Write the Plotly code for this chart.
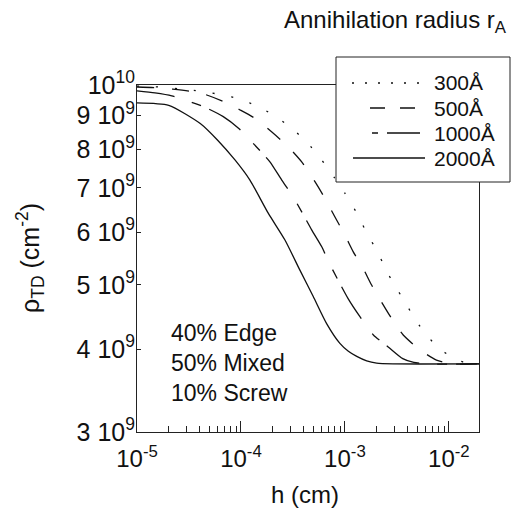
import math
import plotly.graph_objects as go

# ---- data (h in cm, rho in units of 1e9 cm^-2) ----
labels = ["300Å", "500Å", "1000Å", "2000Å"]

h_300 = [1e-5, 1.49e-5, 3.24e-5, 4.68e-5, 6.76e-5, 9.77e-5, 1.42e-4, 2.05e-4, 2.96e-4,
         4.28e-4, 5.97e-4, 7.89e-4, 1.0e-3, 1.28e-3, 1.56e-3, 1.90e-3, 2.34e-3, 2.81e-3,
         3.51e-3, 4.38e-3, 5.66e-3, 7.79e-3, 1.12e-2, 1.5e-2, 1.95e-2]
rho_300 = [9.96, 9.94, 9.83, 9.75, 9.66, 9.52, 9.30, 9.01, 8.65,
           8.21, 7.71, 7.26, 6.87, 6.44, 6.06, 5.73, 5.38, 5.08,
           4.80, 4.53, 4.26, 4.03, 3.87, 3.81, 3.80]

h_500 = [1e-5, 1.5e-5, 2.2e-5, 3.2e-5, 4.5e-5, 6.8e-5, 9.8e-5, 1.36e-4, 1.97e-4, 2.85e-4,
         3.84e-4, 5.15e-4, 6.42e-4, 8.0e-4, 1.0e-3, 1.2e-3, 1.5e-3, 1.8e-3, 2.25e-3,
         2.81e-3, 3.64e-3, 5.26e-3, 7.6e-3, 1.05e-2, 1.95e-2]
rho_500 = [9.93, 9.91, 9.86, 9.79, 9.68, 9.44, 9.17, 8.91, 8.50, 8.07,
           7.66, 7.15, 6.75, 6.33, 5.94, 5.61, 5.29, 5.00, 4.71,
           4.45, 4.20, 3.99, 3.85, 3.80, 3.80]

h_1000 = [1e-5, 1.49e-5, 2.16e-5, 4.4e-5, 6.76e-5, 9.6e-5, 1.45e-4, 1.9e-4, 2.47e-4, 3.17e-4,
          4.79e-4, 5.97e-4, 7.2e-4, 1.07e-3, 1.39e-3, 1.88e-3, 2.61e-3, 3.6e-3, 4.6e-3,
          6.2e-3, 1.95e-2]
rho_1000 = [9.80, 9.73, 9.63, 9.27, 8.96, 8.59, 8.03, 7.66, 7.19, 6.79,
            6.05, 5.71, 5.36, 4.77, 4.48, 4.20, 4.03, 3.87, 3.82,
            3.80, 3.80]

h_2000 = [1e-5, 2.02e-5, 4.06e-5, 6e-5, 8.76e-5, 1.22e-4, 1.83e-4, 2.65e-4, 3.69e-4, 4.96e-4,
          6.67e-4, 8.95e-4, 1.08e-3, 1.3e-3, 1.62e-3, 2.02e-3, 2.9e-3, 1.95e-2]
rho_2000 = [9.40, 9.32, 8.75, 8.25, 7.71, 7.19, 6.41, 5.84, 5.26, 4.80,
            4.37, 4.08, 3.97, 3.90, 3.84, 3.81, 3.80, 3.80]

x_tick_vals = [1e-5, 1e-4, 1e-3, 1e-2]
x_tick_exp = ["-5", "-4", "-3", "-2"]
y_tick_vals = [3e9, 4e9, 5e9, 6e9, 7e9, 8e9, 9e9, 1e10]
y_tick_mant = ["3 ", "4 ", "5 ", "6 ", "7 ", "8 ", "9 ", ""]
y_tick_exp = ["9", "9", "9", "9", "9", "9", "9", "10"]
composition = ["40% Edge", "50% Mixed", "10% Screw"]

# ---- styles ----
FONT = "Liberation Sans, Arial, Helvetica, sans-serif"
INK = "#111111"
SUP = '<sup style="font-size:18px">{}</sup>'
curve_dash = ["2px,17px", "17px,18px", "38px,18px,10px,9px", "solid"]
legend_dash = ["2px,11px", "15px,15px", "6px,9px,33px,9px", "solid"]

x_tick_text = ["10" + SUP.format(e) for e in x_tick_exp]
y_tick_text = [m + "10" + SUP.format(e) for m, e in zip(y_tick_mant, y_tick_exp)]

fig = go.Figure()
series = [(h_300, rho_300), (h_500, rho_500), (h_1000, rho_1000), (h_2000, rho_2000)]
for (hx, ry), dash, name in zip(series, curve_dash, labels):
    fig.add_trace(go.Scatter(x=hx, y=[v * 1e9 for v in ry], mode="lines", name=name,
                             line=dict(color=INK, width=1.3, dash=dash, shape="spline", smoothing=0.6),
                             showlegend=False))

minor_x = [m * 10 ** e for e in (-5, -4, -3, -2) for m in range(2, 10) if m * 10 ** e < 0.0195]

fig.update_layout(
    width=513, height=508,
    margin=dict(l=137, r=34, t=85, b=76),
    paper_bgcolor="white", plot_bgcolor="white",
    font=dict(family=FONT, color=INK, size=22),
    xaxis=dict(type="log", range=[-5, math.log10(0.0195)],
               showline=True, linecolor="#222", linewidth=1, mirror=True,
               ticks="inside", ticklen=11, tickwidth=1, tickcolor="#222",
               tickvals=x_tick_vals, ticktext=x_tick_text, ticklabelstandoff=5,
               tickfont=dict(size=24, family=FONT, color=INK),
               showgrid=False, zeroline=False,
               minor=dict(ticks="inside", ticklen=6, tickwidth=1, tickcolor="#222",
                          tickvals=minor_x, showgrid=False)),
    yaxis=dict(type="log", range=[math.log10(3e9), 10],
               showline=True, linecolor="#222", linewidth=1, mirror=True,
               ticks="inside", ticklen=4, tickwidth=1, tickcolor="#222",
               tickvals=y_tick_vals, ticktext=y_tick_text, ticklabelstandoff=-4,
               tickfont=dict(size=25, family=FONT, color=INK),
               showgrid=False, zeroline=False),
)

def px(xp):
    return (xp - 137) / 342.0

def py(yp):
    return (432 - yp) / 347.0

annotations = [
    dict(text="h (cm)", x=px(305), y=py(494), xref="paper", yref="paper",
         showarrow=False, font=dict(size=24, family=FONT, color=INK), xanchor="center", yanchor="middle"),
    dict(text='ρ<sub style="font-size:15px">TD</sub> (cm<sup style="font-size:17px">-2</sup>)',
         x=px(30), y=py(258), xref="paper", yref="paper",
         showarrow=False, textangle=-90, font=dict(size=25, family=FONT, color=INK),
         xanchor="center", yanchor="middle"),
    dict(text="Annihilation radius r<sub>A</sub>", x=px(282), y=py(22), xref="paper", yref="paper",
         showarrow=False, font=dict(size=24, family=FONT, color=INK), xanchor="left", yanchor="middle"),
    dict(text="<br>".join(composition), x=px(169), y=py(363), xref="paper", yref="paper",
         showarrow=False, align="left", font=dict(size=23, family=FONT, color=INK),
         xanchor="left", yanchor="middle"),
]

shapes = [dict(type="rect", xref="paper", yref="paper", x0=px(336), x1=px(510), y0=py(182), y1=py(57),
               fillcolor="white", line=dict(color="#222", width=1), layer="above")]

leg_y = [83, 108, 133, 158]
leg_x = [(352, 427), (370, 415), (372, 420), (353, 425)]
for name, dash, yy, (xa, xb) in zip(labels, legend_dash, leg_y, leg_x):
    shapes.append(dict(type="line", xref="paper", yref="paper", x0=px(xa), x1=px(xb), y0=py(yy), y1=py(yy),
                       line=dict(color=INK, width=1.3, dash=dash), layer="above"))
    annotations.append(dict(text=name, x=px(432), y=py(yy), xref="paper", yref="paper", showarrow=False,
                            font=dict(size=21, family=FONT, color=INK), xanchor="left", yanchor="middle"))

fig.update_layout(annotations=annotations, shapes=shapes)
fig.write_html("out.html")
